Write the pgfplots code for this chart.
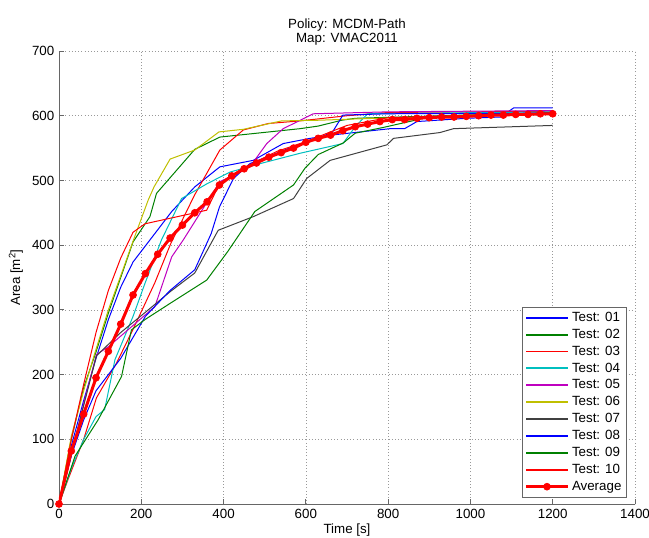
\documentclass[border=0pt]{standalone}
\usepackage{fontspec}
\setmainfont{Liberation Sans}
\usepackage{pgfplots}
\pgfplotsset{compat=1.18}

\definecolor{mblue}{rgb}{0,0,1}
\definecolor{mgreen}{rgb}{0,0.5,0}
\definecolor{mred}{rgb}{1,0,0}
\definecolor{mcyan}{rgb}{0,0.75,0.75}
\definecolor{mmagenta}{rgb}{0.75,0,0.75}
\definecolor{myellow}{rgb}{0.75,0.75,0}
\definecolor{mgray}{rgb}{0.25,0.25,0.25}

\pgfplotsset{
    testlegend/.style={legend image code/.code={\draw[##1, line width=1.4pt] (0cm,0cm) -- (1.1cm,0cm);}},
    avglegend/.style={legend image code/.code={\draw[mark repeat=2, mark phase=2, ##1] plot coordinates {(0cm,0cm) (0.55cm,0cm) (1.1cm,0cm)};}},
}

\begin{document}
\begin{tikzpicture}
\begin{axis}[name=ax, scale only axis, width=432pt, height=339.75pt,
    xmin=0, xmax=1400, ymin=0, ymax=700,
    xtick={0,200,...,1400}, ytick={0,100,...,700},
    axis x line*=bottom, axis y line*=left,
    axis line style={draw=black!60, line width=0.6pt, -},
    tick align=inside, major tick length=4pt,
    tick style={draw=black!60, line width=0.6pt},
    grid=major, grid style={dotted, draw=black!40, line width=0.5pt},
    /pgf/number format/assume math mode=true,
    /pgf/number format/1000 sep={},
    ticklabel style={font=\fontsize{10}{12}\selectfont},
    title={Policy: MCDM-Path\\Map: VMAC2011},
    title style={align=center, font=\fontsize{10}{10.5}\selectfont, yshift=-5pt},
    xlabel={Time [s]}, ylabel={Area [m\textsuperscript{2}]},
    label style={font=\fontsize{10}{12}\selectfont},
    xlabel style={yshift=2.5pt},
    every axis plot/.append style={line width=0.75pt},
    legend cell align=left,
    legend style={at={(0.985,0.015)}, anchor=south east, draw=black!60,
        font=\fontsize{10}{12}\selectfont, row sep=0.2pt, inner sep=1.5pt},
    testlegend,
]
% Test 01
\addplot[mblue, no marks] coordinates {
(0,0) (30,90) (60,160) (90,225) (120,285) (150,335) (180,374) (221,408) (274,452)
(330,490) (391,521) (472,531) (545,557) (610,565) (675,571) (805,580) (840,580)
(870,591) (990,596) (1073,598) (1105,612) (1200,612)};
\addlegendentry{Test: 01}
% Test 02
\addplot[mgreen, no marks] coordinates {
(0,0) (30,100) (60,180) (90,235) (120,295) (150,350) (180,405) (221,444) (237,480)
(330,548) (391,567) (586,580) (630,584) (687,593) (720,596) (1200,605)};
\addlegendentry{Test: 02}
% Test 03
\addplot[mred, no marks] coordinates {
(0,0) (22,38) (60,100) (91,164) (140,218) (180,270) (233,342) (272,403) (330,478)
(391,547) (448,578) (509,588) (586,592) (700,600) (800,605) (1200,607)};
\addlegendentry{Test: 03}
% Test 04
\addplot[mcyan, no marks] coordinates {
(0,0) (30,55) (60,100) (90,135) (111,146) (136,223) (180,290) (209,341) (249,408)
(298,472) (360,495) (416,513) (489,526) (586,542) (690,557) (720,583) (750,603)
(1200,606)};
\addlegendentry{Test: 04}
% Test 05
\addplot[mmagenta, no marks] coordinates {
(0,0) (30,75) (60,155) (91,231) (120,243) (233,305) (274,382) (302,408) (391,498)
(464,521) (505,557) (545,580) (618,603) (800,606) (1200,608)};
\addlegendentry{Test: 05}
% Test 06
\addplot[myellow, no marks] coordinates {
(0,0) (30,105) (60,175) (87,233) (120,300) (157,365) (181,408) (217,470) (231,490)
(270,533) (330,547) (389,575) (448,579) (541,592) (630,593) (720,595) (1200,604)};
\addlegendentry{Test: 06}
% Test 07
\addplot[mgray, no marks] coordinates {
(0,0) (45,115) (91,229) (150,265) (217,300) (270,328) (330,357) (387,423) (472,444)
(570,472) (602,503) (659,531) (797,555) (813,565) (926,574) (959,580) (1200,585)};
\addlegendentry{Test: 07}
% Test 08
\addplot[mblue, no marks] coordinates {
(0,0) (30,75) (60,130) (90,175) (150,225) (210,290) (270,330) (330,362) (370,418)
(390,459) (424,503) (464,526) (560,550) (640,568) (665,575) (690,601) (800,603)
(1200,604)};
\addlegendentry{Test: 08}
% Test 09
\addplot[mgreen, no marks] coordinates {
(0,0) (39,74) (95,130) (152,197) (176,269) (209,285) (270,310) (359,346) (410,390)
(476,452) (570,493) (598,519) (630,540) (691,558) (720,573) (789,582) (900,598)
(1200,604)};
\addlegendentry{Test: 09}
% Test 10
\addplot[mred, no marks] coordinates {
(0,0) (30,100) (60,185) (90,265) (120,330) (150,380) (180,420) (209,433) (359,454)
(391,496) (450,520) (530,545) (600,560) (700,585) (800,597) (1200,604)};
\addlegendentry{Test: 10}
% Average
\addplot[mred, line width=2.25pt, mark=*, mark size=2.6pt, mark options={solid, fill=mred, line width=0.5pt}, avglegend] coordinates {
(0,0) (30,82) (60,139) (90,195) (120,236) (150,278) (180,323) (210,356) (240,386)
(270,411) (300,431) (330,450) (360,467) (390,493) (420,507) (450,518) (480,527)
(510,536) (540,543) (570,550) (600,559) (630,565) (660,570) (690,577) (720,583)
(750,587) (780,591) (810,594) (840,594) (870,596) (900,597) (930,598) (960,598)
(990,599) (1020,600) (1050,601) (1080,601) (1110,602) (1140,602) (1170,603) (1200,603)};
\addlegendentry{Average}
\end{axis}
\pgfresetboundingbox
\useasboundingbox (ax.south west) ++(-44.25pt,-24.75pt) rectangle ++(486.75pt,402.75pt);
\end{tikzpicture}
\end{document}
